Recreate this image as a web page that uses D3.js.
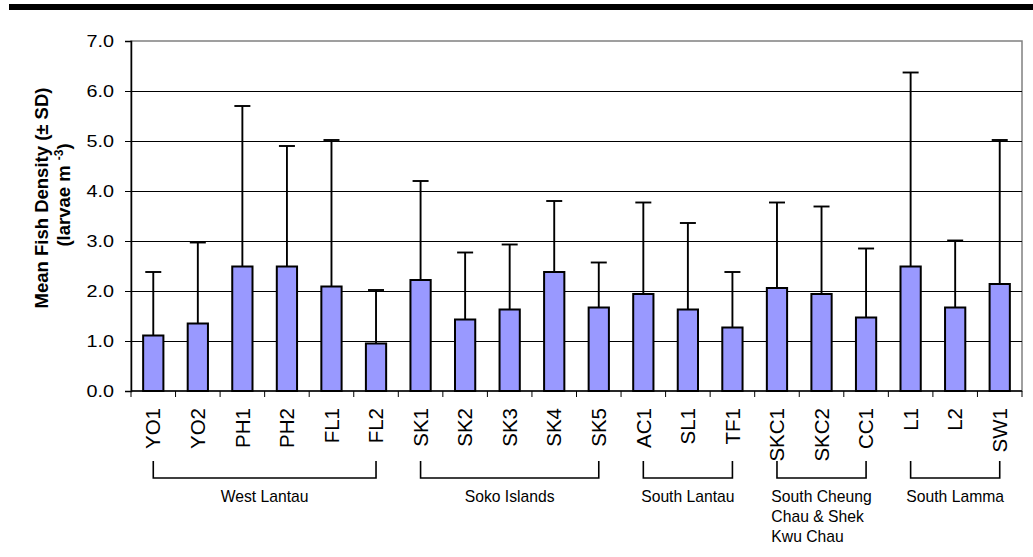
<!DOCTYPE html>
<html>
<head>
<meta charset="utf-8">
<script src="https://cdn.jsdelivr.net/npm/d3@7"></script>
<style>
  html, body { margin: 0; padding: 0; background: #fff; }
  svg { display: block; font-family: "Liberation Sans", Arial, Helvetica, sans-serif; }
</style>
</head>
<body>
<svg id="chart" width="1033" height="557"></svg>
<script>
// Sampling stations, mean larval fish density and standard deviation
const stations = ["YO1", "YO2", "PH1", "PH2", "FL1", "FL2",
                  "SK1", "SK2", "SK3", "SK4", "SK5",
                  "AC1", "SL1", "TF1",
                  "SKC1", "SKC2", "CC1",
                  "L1", "L2", "SW1"];
const meanDensity = [1.11, 1.35, 2.49, 2.49, 2.09, 0.95,
                     2.22, 1.43, 1.63, 2.38, 1.67,
                     1.94, 1.63, 1.27,
                     2.06, 1.94, 1.47,
                     2.49, 1.67, 2.14];
const sdDensity = [1.27, 1.62, 3.21, 2.41, 2.93, 1.07,
                   1.98, 1.34, 1.30, 1.42, 0.90,
                   1.83, 1.73, 1.11,
                   1.71, 1.75, 1.38,
                   3.88, 1.34, 2.88];
const yTicks = [0, 1, 2, 3, 4, 5, 6, 7];

// Station groupings shown under the axis
const groupLabels = [["West Lantau"], ["Soko Islands"], ["South Lantau"],
                     ["South Cheung", "Chau & Shek", "Kwu Chau"], ["South Lamma"]];
const groupFirst = ["YO1", "SK1", "AC1", "SKC1", "L1"];
const groupLast  = ["FL2", "SK5", "TF1", "CC1", "SW1"];

const svg = d3.select("#chart");
const plot = { left: 131, right: 1022, top: 41, bottom: 391 };

const x = d3.scaleBand().domain(stations).range([plot.left, plot.right]).paddingInner(0).paddingOuter(0);
const y = d3.scaleLinear().domain([0, 7]).range([plot.bottom, plot.top]);
const barW = x.bandwidth() / 2.2;
const cx = d => x(d) + x.bandwidth() / 2;

// heavy rule across the top of the page
svg.append("rect").attr("x", 9).attr("y", 4).attr("width", 1024).attr("height", 6).attr("fill", "#000");

// plot-area frame
svg.append("rect")
  .attr("x", plot.left).attr("y", plot.top)
  .attr("width", plot.right - plot.left).attr("height", plot.bottom - plot.top)
  .attr("fill", "none").attr("stroke", "#808080").attr("stroke-width", 1.5);

// horizontal gridlines
svg.append("g").selectAll("line")
  .data(yTicks.filter(t => t > 0 && t < 7))
  .join("line")
  .attr("x1", plot.left).attr("x2", plot.right)
  .attr("y1", d => Math.round(y(d)) + 0.5).attr("y2", d => Math.round(y(d)) + 0.5)
  .attr("stroke", "#000").attr("stroke-width", 1);

// error bars (mean + SD only)
const err = svg.append("g").attr("stroke", "#000").attr("stroke-width", 1.9);
stations.forEach((s, i) => {
  const top = y(meanDensity[i] + sdDensity[i]);
  err.append("line").attr("x1", cx(s)).attr("x2", cx(s)).attr("y1", y(meanDensity[i])).attr("y2", top);
  err.append("line").attr("x1", cx(s) - 8).attr("x2", cx(s) + 8).attr("y1", top).attr("y2", top);
});

// bars
svg.append("g").selectAll("rect")
  .data(stations)
  .join("rect")
  .attr("x", d => cx(d) - barW / 2)
  .attr("width", barW)
  .attr("y", (d, i) => y(meanDensity[i]))
  .attr("height", (d, i) => y(0) - y(meanDensity[i]))
  .attr("fill", "#9999FF")
  .attr("stroke", "#000").attr("stroke-width", 2);

// y axis (tick labels drawn slightly wide)
const labelStretch = 1.2;
const yAxis = svg.append("g")
  .attr("transform", `translate(${plot.left},0)`)
  .call(d3.axisLeft(y).tickValues(yTicks).tickFormat(d3.format(".1f")).tickSize(6).tickPadding(11));
yAxis.select(".domain").attr("stroke", "#000").attr("stroke-width", 1.5);
yAxis.selectAll(".tick line").attr("stroke", "#000").attr("stroke-width", 1);
yAxis.selectAll("text")
  .attr("font-size", 16.5).attr("fill", "#000")
  .attr("font-family", "'Liberation Sans', Arial, sans-serif")
  .attr("x", -17 / labelStretch)
  .attr("transform", `scale(${labelStretch},1)`);

// x axis line and tick marks between stations
svg.append("line")
  .attr("x1", plot.left).attr("x2", plot.right)
  .attr("y1", plot.bottom).attr("y2", plot.bottom)
  .attr("stroke", "#000").attr("stroke-width", 1.5);
const bounds = stations.map(s => x(s)).concat([x(stations[stations.length - 1]) + x.bandwidth()]);
svg.append("g").selectAll("line")
  .data(bounds)
  .join("line")
  .attr("x1", d => d).attr("x2", d => d)
  .attr("y1", plot.bottom).attr("y2", plot.bottom + 6)
  .attr("stroke", "#000").attr("stroke-width", 1);

// station labels, rotated
svg.append("g").selectAll("text")
  .data(stations)
  .join("text")
  .attr("transform", d => `translate(${cx(d)},408) rotate(-90)`)
  .attr("text-anchor", "end")
  .attr("dy", "0.35em")
  .attr("font-size", 20.5)
  .attr("fill", "#000")
  .text(d => d);

// group brackets and names
const grp = svg.append("g");
groupLabels.forEach((lines, i) => {
  const x1 = cx(groupFirst[i]), x2 = cx(groupLast[i]);
  grp.append("path")
    .attr("d", `M${x1},461V478H${x2}V461`)
    .attr("fill", "none").attr("stroke", "#000").attr("stroke-width", 1.6);
  const mid = (x1 + x2) / 2;
  const t = grp.append("text").attr("font-size", 15.7).attr("fill", "#000");
  lines.forEach((ln, j) => {
    t.append("tspan").attr("y", 502 + j * 20).text(ln);
  });
  if (lines.length === 1) {
    t.attr("text-anchor", "middle").selectAll("tspan").attr("x", mid);
  } else {
    let w = 0;
    t.selectAll("tspan").each(function () { w = Math.max(w, this.getComputedTextLength()); });
    t.attr("text-anchor", "start").selectAll("tspan").attr("x", mid - w / 2);
  }
});

// y-axis title
svg.append("text")
  .attr("transform", "translate(48,198) rotate(-90)")
  .attr("text-anchor", "middle")
  .attr("font-size", 18.5).attr("font-weight", "bold").attr("fill", "#000")
  .text("Mean Fish Density (\u00B1 SD)");
const t2 = svg.append("text")
  .attr("transform", "translate(70,195) rotate(-90)")
  .attr("text-anchor", "middle")
  .attr("font-size", 18.5).attr("font-weight", "bold").attr("fill", "#000");
t2.append("tspan").text("(larvae m ");
t2.append("tspan").attr("dy", -7).attr("font-size", 12).text("-3");
t2.append("tspan").attr("dy", 7).text(")");
</script>
</body>
</html>
